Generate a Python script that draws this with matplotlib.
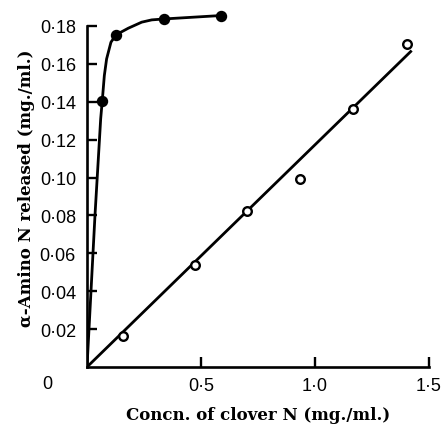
import matplotlib
matplotlib.use("Agg")
import matplotlib.pyplot as plt

# Open circles (straight-line series)
open_x = [0.158, 0.474, 0.702, 0.934, 1.167, 1.404]
open_y = [0.0164, 0.0539, 0.0824, 0.0993, 0.1362, 0.1705]
# Fitted straight line end points
line_x = [0.0, 1.424]
line_y = [0.0, 0.167]

# Filled circles (saturating series)
filled_x = [0.067, 0.127, 0.339, 0.588]
filled_y = [0.1406, 0.1753, 0.1837, 0.1855]
# Hand-drawn curve
curve_x = [0.0, 0.035, 0.060, 0.067, 0.076, 0.086, 0.105, 0.127, 0.181, 0.240, 0.284, 0.339, 0.588]
curve_y = [0.0, 0.080, 0.131, 0.1406, 0.1538, 0.1626, 0.1714, 0.1753, 0.1788, 0.182, 0.1832, 0.1837, 0.1855]

xticks = [0.5, 1.0, 1.5]
xticklabels = ["0·5", "1·0", "1·5"]
yticks = [0.02, 0.04, 0.06, 0.08, 0.10, 0.12, 0.14, 0.16, 0.18]
yticklabels = ["0·02", "0·04", "0·06", "0·08", "0·10", "0·12", "0·14", "0·16", "0·18"]

fig = plt.figure(figsize=(4.42, 4.27), dpi=100)
ax = fig.add_axes([87/442, 59/427, 342/442, 360/427])

ax.plot(line_x, line_y, color="black", lw=2.0, solid_capstyle="butt", zorder=2)
ax.plot(curve_x, curve_y, color="black", lw=2.0, zorder=2)
ax.plot(filled_x, filled_y, "o", color="black", ms=7.2, zorder=3)
ax.plot(open_x, open_y, "o", mfc="white", mec="black", mew=1.7, ms=6.2, zorder=3)

ax.set_xlim(0, 1.5)
ax.set_ylim(0, 0.19)
ax.spines["top"].set_visible(False)
ax.spines["right"].set_visible(False)
ax.spines["left"].set_bounds(0, 0.18)
for s in ("left", "bottom"):
    ax.spines[s].set_linewidth(1.9)

tickfont = dict(family="Liberation Sans", size=13)
ax.set_xticks(xticks)
ax.set_xticklabels(xticklabels, **tickfont)
ax.set_yticks(yticks)
ax.set_yticklabels(yticklabels, **tickfont)
ax.tick_params(direction="in", length=7, width=1.7, pad=7)
ax.tick_params(axis="y", pad=8)

ax.annotate("0", xy=(0, 0), xycoords="data", xytext=(-32.5, -12), textcoords="offset points",
            ha="left", va="center", **tickfont)

labfont = dict(family="DejaVu Serif", size=12, weight="bold")
ax.set_xlabel("Concn. of clover N (mg./ml.)", labelpad=9, **labfont)
ax.set_ylabel("α-Amino N released (mg./ml.)", labelpad=3, **labfont)

fig.savefig("out.png", dpi=100)
